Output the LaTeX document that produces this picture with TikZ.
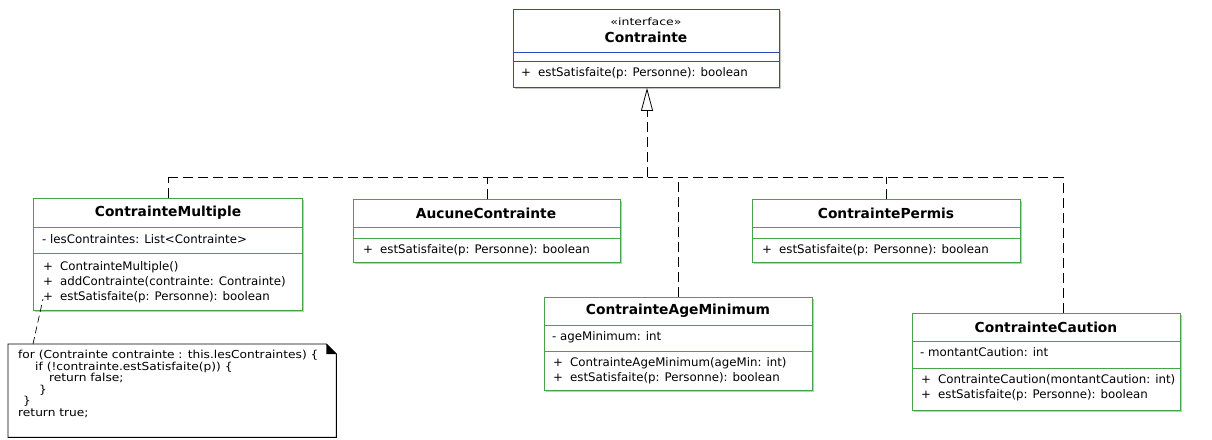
\documentclass[tikz,border=0pt]{standalone}
\usepackage{fontspec}
\setmainfont{DejaVu Sans}
\newfontfamily\notefont{DejaVu Sans}[FakeStretch=1.11]
\newfontfamily\stereofont{DejaVu Sans}[FakeStretch=1.25]
\usetikzlibrary{shadows,arrows.meta}
\definecolor{classgreen}{RGB}{70,165,70}
\definecolor{ifaceblue}{RGB}{45,75,190}
\newcommand{\op}[1]{\makebox[17pt][l]{+}#1}
\tikzset{
  classbox/.style={draw=classgreen, line width=0.9pt, fill=white, anchor=north west, inner sep=0pt,
    drop shadow={shadow xshift=2pt, shadow yshift=-2pt, opacity=.45}},
  ifacebox/.style={classbox, draw=ifaceblue},
  sepline/.style={draw=classgreen, line width=0.8pt},
  ifsepline/.style={draw=ifaceblue, line width=0.8pt},
  classname/.style={inner sep=0pt, font=\fontsize{13.8}{16}\selectfont\bfseries},
  stereo/.style={inner sep=0pt, font=\fontsize{10}{12}\stereofont},
  member/.style={anchor=mid west, inner sep=0pt, font=\fontsize{11.8}{15}\selectfont},
  realize/.style={line width=0.8pt, dash pattern=on 10pt off 5pt},
  notebox/.style={anchor=north west, inner sep=0pt, fill=white},
  notetext/.style={anchor=north west, inner sep=0pt, align=left, font=\fontsize{11}{11.6}\notefont},
  notelink/.style={line width=0.7pt, dash pattern=on 7pt off 4pt}
}

\begin{document}
\begin{tikzpicture}[x=1pt,y=-1pt]
  \useasboundingbox (0,0) rectangle (1212,439);

  % interface
  \node[ifacebox, minimum width=266pt, minimum height=78pt] (iface) at (513,9) {};
  \node[stereo] (iface-st) at (646,22) {«interface»};
  \node[classname] (iface-t) at (646,37) {Contrainte};
  \draw[ifsepline] (iface.west |- 0,52) -- (iface.east |- 0,52);
  \draw[ifsepline] (iface.west |- 0,61) -- (iface.east |- 0,61);
  \node[member] (iface-m1) at (521,74) {\op{estSatisfaite(p: Personne): boolean}};

  % ContrainteMultiple
  \node[classbox, minimum width=269pt, minimum height=112pt] (cm) at (33,198) {};
  \node[classname] (cm-t) at (168,213) {ContrainteMultiple};
  \draw[sepline] (cm.west |- 0,227) -- (cm.east |- 0,227);
  \node[member] (cm-a1) at (42,241) {- lesContraintes: List<Contrainte>};
  \draw[sepline] (cm.west |- 0,253) -- (cm.east |- 0,253);
  \node[member] (cm-m1) at (43,268) {\op{ContrainteMultiple()}};
  \node[member] (cm-m2) at (43,283) {\op{addContrainte(contrainte: Contrainte)}};
  \node[member] (cm-m3) at (43,298) {\op{estSatisfaite(p: Personne): boolean}};

  % AucuneContrainte
  \node[classbox, minimum width=267pt, minimum height=63pt] (ac) at (353,199) {};
  \node[classname] (ac-t) at (486,213) {AucuneContrainte};
  \draw[sepline] (ac.west |- 0,227) -- (ac.east |- 0,227);
  \draw[sepline] (ac.west |- 0,238) -- (ac.east |- 0,238);
  \node[member] (ac-m1) at (363,251) {\op{estSatisfaite(p: Personne): boolean}};

  % ContraintePermis
  \node[classbox, minimum width=268pt, minimum height=63pt] (cp) at (752,199) {};
  \node[classname] (cp-t) at (886,213) {ContraintePermis};
  \draw[sepline] (cp.west |- 0,227) -- (cp.east |- 0,227);
  \draw[sepline] (cp.west |- 0,238) -- (cp.east |- 0,238);
  \node[member] (cp-m1) at (762,251) {\op{estSatisfaite(p: Personne): boolean}};

  % ContrainteAgeMinimum
  \node[classbox, minimum width=268pt, minimum height=93pt] (ca) at (544,297) {};
  \node[classname] (ca-t) at (678,311) {ContrainteAgeMinimum};
  \draw[sepline] (ca.west |- 0,325) -- (ca.east |- 0,325);
  \node[member] (ca-a1) at (552,338) {- ageMinimum: int};
  \draw[sepline] (ca.west |- 0,351) -- (ca.east |- 0,351);
  \node[member] (ca-m1) at (553,364) {\op{ContrainteAgeMinimum(ageMin: int)}};
  \node[member] (ca-m2) at (553,379) {\op{estSatisfaite(p: Personne): boolean}};

  % ContrainteCaution
  \node[classbox, minimum width=268pt, minimum height=97pt] (cc) at (912,313) {};
  \node[classname] (cc-t) at (1046,327) {ContrainteCaution};
  \draw[sepline] (cc.west |- 0,341) -- (cc.east |- 0,341);
  \node[member] (cc-a1) at (920,354) {- montantCaution: int};
  \draw[sepline] (cc.west |- 0,368) -- (cc.east |- 0,368);
  \node[member] (cc-m1) at (921,381) {\op{ContrainteCaution(montantCaution: int)}};
  \node[member] (cc-m2) at (921,396) {\op{estSatisfaite(p: Personne): boolean}};

  % realisations
  \coordinate (bus) at (647,177);
  \coordinate (busR) at (1063,177);
  \draw[realize, -{Triangle[open, length=23pt, width=12pt, line width=0.8pt]}] (bus) -- (bus |- iface.south);
  \draw[realize] (cm.north |- bus) -- (busR);
  \draw[realize] (cm.north) -- (cm.north |- bus);
  \draw[realize] (ac.north) -- (ac.north |- bus);
  \draw[realize] (cp.north) -- (cp.north |- bus);
  \draw[realize] (ca.north) -- (ca.north |- bus);
  \draw[realize] (busR |- cc.north) -- (busR);

  % note
  \node[notebox, minimum width=328pt, minimum height=93pt] (note) at (8,344) {};
  \draw[line width=0.9pt] (note.north west) -- ([xshift=-10pt]note.north east)
    -- ([yshift=-10pt]note.north east) -- (note.south east) -- (note.south west) -- cycle;
  \fill ([xshift=-10pt]note.north east) -- ([yshift=-10pt]note.north east)
    -- ([xshift=-10pt,yshift=-10pt]note.north east) -- cycle;
  \node[notetext] (note-t) at (18,350) {for (Contrainte contrainte : this.lesContraintes) \{\\
    \hspace*{17pt}if (!contrainte.estSatisfaite(p)) \{\\
    \hspace*{31pt}return false;\\
    \hspace*{21pt}\}\\
    \hspace*{5pt}\}\\
    return true;};
  \coordinate (note-link) at (33,344);
  \coordinate (cm-link) at (43,299);
  \draw[notelink] (note-link) -- (cm-link);
\end{tikzpicture}
\end{document}
